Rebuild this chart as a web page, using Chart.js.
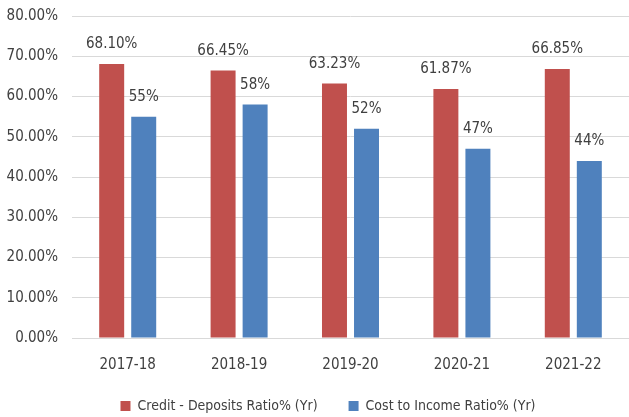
<!DOCTYPE html>
<html lang="en">
<head>
  <meta charset="UTF-8">
  <title>Credit - Deposits vs Cost to Income</title>
  <script src="https://cdn.jsdelivr.net/npm/chart.js"></script>
  <style>
    body { margin: 0; background: #fff; }
    #wrap { width: 629px; height: 417px; }
  </style>
</head>
<body>
<div id="wrap"><canvas id="myChart" width="629" height="417"></canvas></div>
<script>
  const years = ['2017-18', '2018-19', '2019-20', '2020-21', '2021-22'];
  const creditDeposits = [68.10, 66.45, 63.23, 61.87, 66.85];
  const costIncome = [55, 58, 52, 47, 44];
  const creditLabels = ['68.10%', '66.45%', '63.23%', '61.87%', '66.85%'];
  const costLabels = ['55%', '58%', '52%', '47%', '44%'];

  const fontFam = "'Liberation Sans Narrow', 'DejaVu Sans Condensed', sans-serif";
  const legendGap = 31;

  // draws the value text above each bar
  const barLabels = {
    id: 'barLabels',
    afterDatasetsDraw(chart) {
      const ctx = chart.ctx;
      ctx.save();
      ctx.font = '15px ' + fontFam;
      ctx.fillStyle = '#404040';
      ctx.textAlign = 'center';
      ctx.textBaseline = 'bottom';
      chart.data.datasets.forEach((ds, i) => {
        chart.getDatasetMeta(i).data.forEach((bar, j) => {
          ctx.fillText(ds.valueLabels[j], bar.x, bar.y - 12);
        });
      });
      ctx.restore();
    }
  };

  // legend padding is used for the gap between items, so trim its height back
  const legendFit = {
    id: 'legendFit',
    beforeInit(chart) {
      const lg = chart.legend;
      const orig = lg.fit;
      lg.fit = function () {
        orig.call(this);
        this.height = 43;
      };
    },
    afterLayout(chart) {
      // move legend up and a bit right of the canvas centre
      chart.legend.left += 27;
      chart.legend.top -= 6;
    }
  };

  const ctx = document.getElementById('myChart').getContext('2d');
  const myChart = new Chart(ctx, {
    type: 'bar',
    data: {
      labels: years,
      datasets: [
        {
          label: 'Credit - Deposits Ratio% (Yr)',
          data: creditDeposits,
          valueLabels: creditLabels,
          backgroundColor: '#C0504D'
        },
        {
          label: 'Cost to Income Ratio% (Yr)',
          data: costIncome,
          valueLabels: costLabels,
          backgroundColor: '#4F81BD'
        }
      ]
    },
    options: {
      responsive: false,
      animation: false,
      layout: { padding: { top: 16, right: 0, left: 0, bottom: 0 } },
      datasets: { bar: { categoryPercentage: 0.575, barPercentage: 0.78 } },
      plugins: {
        legend: {
          position: 'bottom',
          labels: {
            boxWidth: 10,
            boxHeight: 10,
            color: '#404040',
            font: { size: 14, family: fontFam },
            padding: legendGap
          }
        },
        tooltip: { enabled: false }
      },
      scales: {
        x: {
          grid: { display: false },
          border: { color: '#d9d9d9' },
          afterFit(scale) { scale.height = 36; },
          ticks: { color: '#404040', font: { size: 15, family: fontFam }, padding: 10 }
        },
        y: {
          min: 0,
          max: 80,
          afterFit(scale) {
            scale.width = 72;
            scale.paddingTop = 0;
          },
          grid: { color: '#d9d9d9', drawTicks: false },
          border: { display: false },
          ticks: {
            stepSize: 10,
            color: '#404040',
            padding: 14,
            font: { size: 15, family: fontFam },
            callback: v => v.toFixed(2) + '%'
          }
        }
      }
    },
    plugins: [barLabels, legendFit]
  });
</script>
</body>
</html>
